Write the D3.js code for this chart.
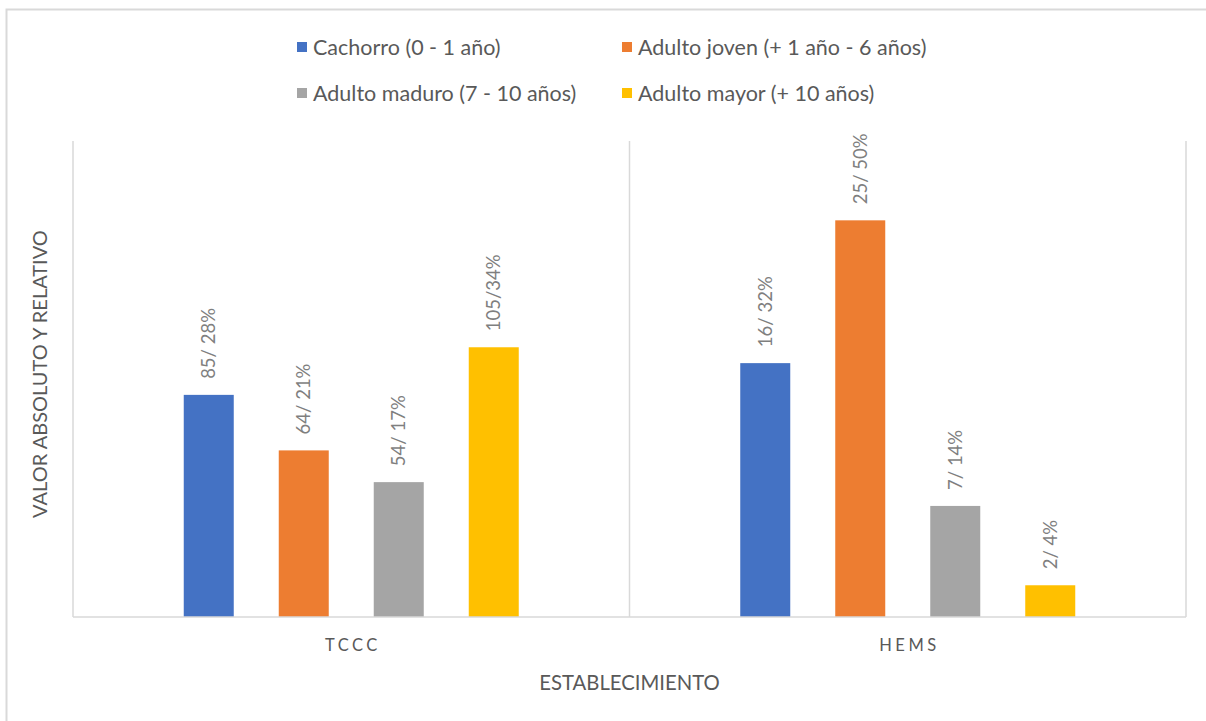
<!DOCTYPE html>
<html>
<head>
<meta charset="utf-8">
<script src="https://cdn.jsdelivr.net/npm/d3@7/dist/d3.min.js"></script>
<style>
  html, body { margin: 0; padding: 0; background: #fff; }
  svg { display: block; font-family: Lato, "Open Sans", sans-serif; }
</style>
</head>
<body>
<svg id="chart" width="1206" height="721"></svg>
<script>
// Establecimientos (categories on the x axis)
const categories = ["TCCC", "HEMS"];
// Age groups (one bar per group inside each establishment)
const seriesNames = [
  "Cachorro (0 - 1 año)",
  "Adulto joven (+ 1 año - 6 años)",
  "Adulto maduro (7 - 10 años)",
  "Adulto mayor (+ 10 años)"
];
const seriesColors = ["#4472C4", "#ED7D31", "#A5A5A5", "#FFC000"];
// Relative value (%) per age group, for TCCC and HEMS
const pctTCCC = [28, 21, 17, 34];
const pctHEMS = [32, 50, 14, 4];
// Absolute counts per age group
const countTCCC = [85, 64, 54, 105];
const countHEMS = [16, 25, 7, 2];
// Text shown above each bar
const labelsTCCC = ["85/ 28%", "64/ 21%", "54/ 17%", "105/34%"];
const labelsHEMS = ["16/ 32%", "25/ 50%", "7/ 14%", "2/ 4%"];
const yDomainMax = 60;

const pctByCat = { TCCC: pctTCCC, HEMS: pctHEMS };
const labelsByCat = { TCCC: labelsTCCC, HEMS: labelsHEMS };

const svg = d3.select("#chart");
const plot = { left: 73, right: 1186, top: 141, bottom: 617 };
const axisColor = "#d9d9d9";
const textColor = "#595959";

// Outer chart frame
svg.append("rect")
  .attr("x", 6.5).attr("y", 9.5)
  .attr("width", 1260).attr("height", 760)
  .attr("fill", "none").attr("stroke", axisColor).attr("stroke-width", 2);

const x0 = d3.scaleBand().domain(categories).range([plot.left, plot.right]).padding(0);
const groupWidth = 380;
const pi = 45 / 95;
const x1 = d3.scaleBand().domain(d3.range(seriesNames.length))
  .range([0, groupWidth]).paddingInner(pi).paddingOuter(pi / 2);
const y = d3.scaleLinear().domain([0, yDomainMax]).range([plot.bottom, plot.top]);

// Category boundary lines
const boundaries = [plot.left, ...categories.map(c => x0(c) + x0.bandwidth())];
svg.append("g").selectAll("line").data(boundaries).join("line")
  .attr("x1", d => d).attr("x2", d => d)
  .attr("y1", plot.top).attr("y2", plot.bottom)
  .attr("stroke", axisColor).attr("stroke-width", 1.5);

// Bars
const groups = svg.append("g").selectAll("g").data(categories).join("g")
  .attr("transform", c => `translate(${x0(c) + (x0.bandwidth() - groupWidth) / 2},0)`);

groups.selectAll("rect")
  .data(c => pctByCat[c].map((v, i) => ({ v, i })))
  .join("rect")
  .attr("x", d => x1(d.i))
  .attr("width", x1.bandwidth())
  .attr("y", d => y(d.v))
  .attr("height", d => y(0) - y(d.v))
  .attr("fill", d => seriesColors[d.i]);

// Rotated value labels
groups.selectAll("text")
  .data(c => pctByCat[c].map((v, i) => ({ v, i, t: labelsByCat[c][i] })))
  .join("text")
  .attr("transform", d => `translate(${x1(d.i) + x1.bandwidth() / 2},${y(d.v) - 16}) rotate(-90)`)
  .attr("dy", "0.35em")
  .attr("font-size", 18.5)
  .attr("fill", "#7f7f7f")
  .text(d => d.t);

// Baseline
svg.append("line")
  .attr("x1", plot.left).attr("x2", plot.right)
  .attr("y1", plot.bottom).attr("y2", plot.bottom)
  .attr("stroke", axisColor).attr("stroke-width", 1.5);

// Category tick labels
const xAxis = svg.append("g").attr("transform", `translate(0,${plot.bottom})`)
  .call(d3.axisBottom(x0).tickSize(0).tickPadding(22));
xAxis.select(".domain").remove();
xAxis.selectAll("text")
  .attr("font-size", 16.5).attr("fill", textColor)
  .attr("font-family", "Lato, sans-serif")
  .attr("letter-spacing", "3.5px")
  .attr("dx", "1.7px");

// Axis titles
svg.append("text")
  .attr("x", (plot.left + plot.right) / 2).attr("y", 690)
  .attr("text-anchor", "middle").attr("font-size", 20.3).attr("fill", textColor)
  .text("ESTABLECIMIENTO");

svg.append("text")
  .attr("transform", `translate(40,${(plot.top + plot.bottom) / 2 - 5}) rotate(-90)`)
  .attr("text-anchor", "middle").attr("dy", "0.35em")
  .attr("font-size", 20).attr("fill", textColor)
  .text("VALOR ABSOLUTO Y RELATIVO");

// Legend (two rows, two columns)
const legendCols = [297, 622];
const legendRows = [47, 93];
const legend = svg.append("g").selectAll("g").data(seriesNames).join("g")
  .attr("transform", (d, i) => `translate(${legendCols[i % 2]},${legendRows[Math.floor(i / 2)]})`);
legend.append("rect")
  .attr("x", 0).attr("y", -5).attr("width", 10).attr("height", 10)
  .attr("fill", (d, i) => seriesColors[i]);
legend.append("text")
  .attr("x", 16).attr("dy", "0.35em")
  .attr("font-size", 21.5).attr("fill", textColor)
  .text(d => d);
</script>
</body>
</html>
